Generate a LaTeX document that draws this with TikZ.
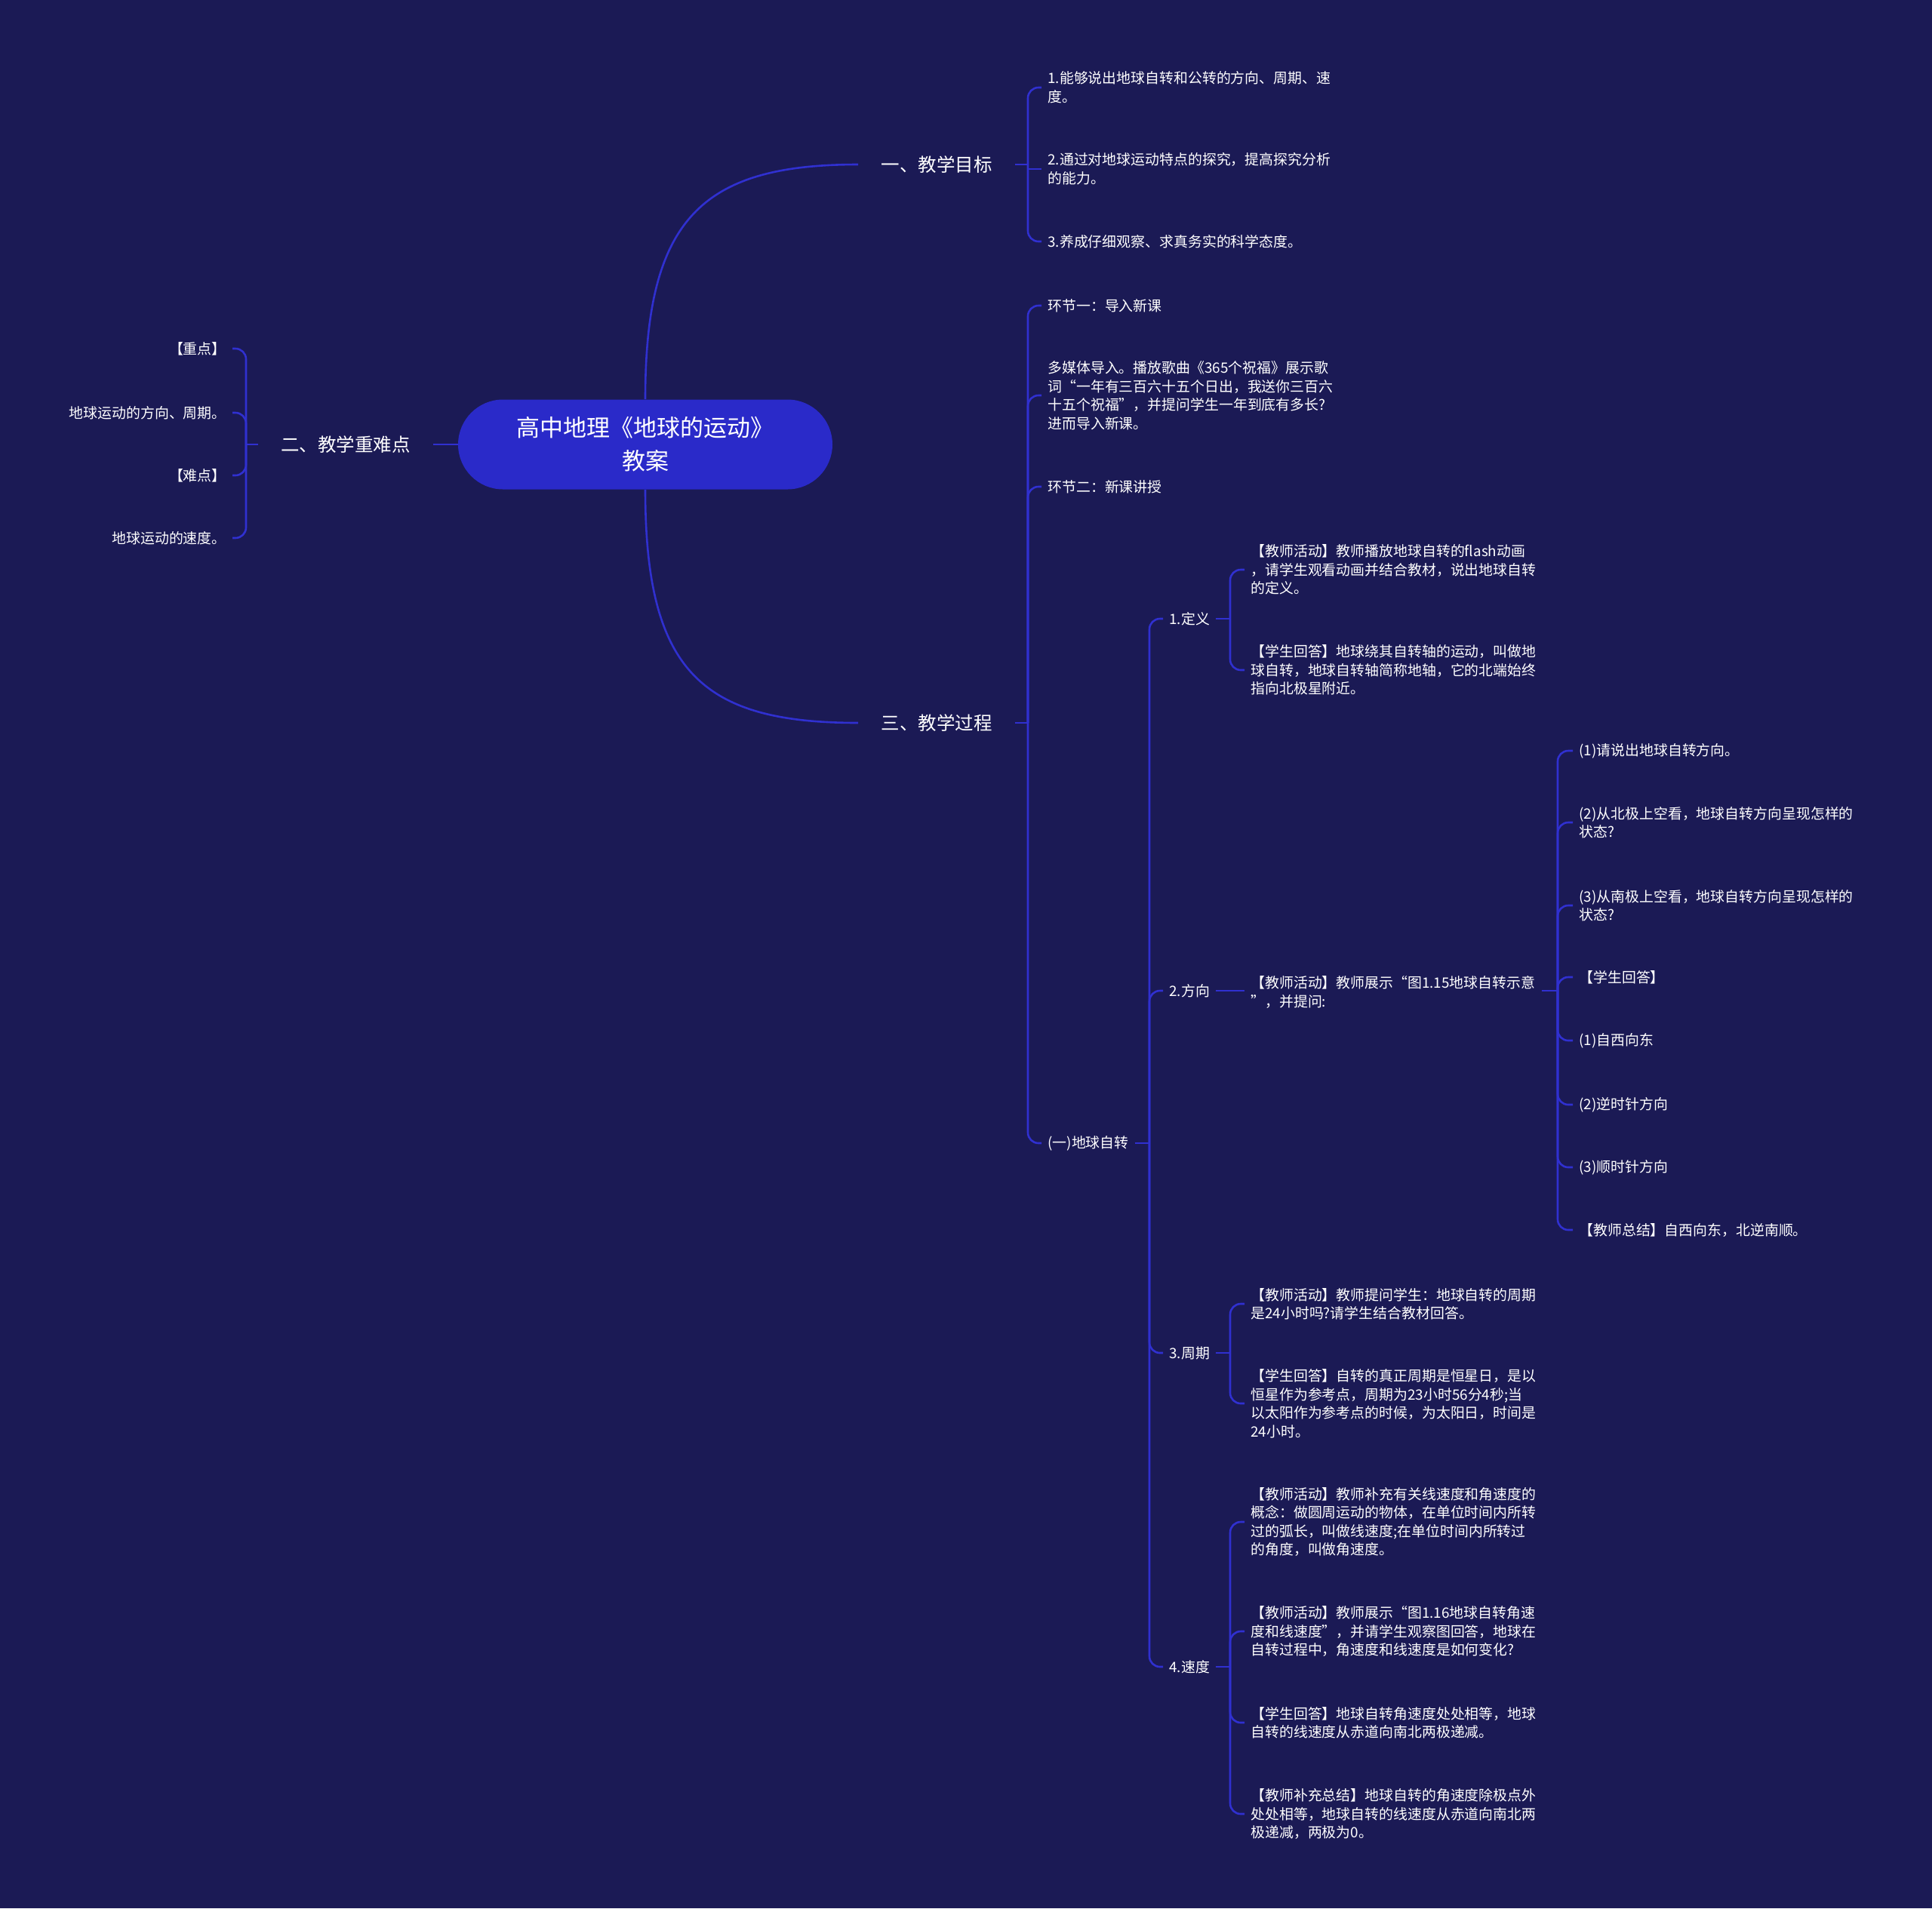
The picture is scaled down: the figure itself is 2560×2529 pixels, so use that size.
\documentclass[tikz,border=0pt]{standalone}
\usepackage{fontspec}
\newfontfamily\cjk{Noto Sans CJK SC}
\definecolor{bgc}{HTML}{1B1A55}
\definecolor{linec}{HTML}{3030D0}
\definecolor{rootc}{HTML}{2A2AC9}
\tikzset{
  conn/.style={draw=linec, line width=1.3pt},
  elbowconn/.style={conn, rounded corners=7pt},
  leaf/.style={font=\cjk\fontsize{9.45}{12.25}\selectfont, text=white, align=left, anchor=west, inner xsep=4pt, inner ysep=1pt},
  leafl/.style={leaf, anchor=east, align=right},
  lvone/.style={font=\cjk\fontsize{12.25}{15}\selectfont, text=white, inner xsep=15pt, inner ysep=2pt},
  rootnode/.style={fill=rootc, rounded corners=29.75pt, minimum width=248pt, minimum height=59.5pt, text=white, align=center, font=\cjk\fontsize{15.5}{22}\selectfont}
}
\begin{document}
\begin{tikzpicture}[x=0.5pt,y=-0.5pt]
\fill[bgc] (0,0) rectangle (2560,2529);
\useasboundingbox (0,0) rectangle (2560,2529);

% root and first level
\node[rootnode] (root) at (855,589) {高中地理《地球的运动》\\教案};
\node[lvone] (g1) at (1241,218) {一、教学目标};
\node[lvone] (g2) at (458,589) {二、教学重难点};
\node[lvone] (g3) at (1241,958) {三、教学过程};
\draw[conn] (root.north) .. controls (855,290) and (930,218) .. (g1.west);
\draw[conn] (root.south) .. controls (855,890) and (930,958) .. (g3.west);
\draw[conn] (root.west) -- (g2.east);

% children of g1
\node[leaf] (a1) at (1380,116) {1.能够说出地球自转和公转的方向、周期、速\\度。};
\node[leaf] (a2) at (1380,224) {2.通过对地球运动特点的探究，提高探究分析\\的能力。};
\node[leaf] (a3) at (1380,320) {3.养成仔细观察、求真务实的科学态度。};
\coordinate (b1) at (1362,218);
\draw[conn] (g1.east) -- (b1);
\draw[elbowconn] (b1) |- (a1.west);
\draw[conn] (b1) |- (a2.west);
\draw[elbowconn] (b1) |- (a3.west);

% children of g2
\node[leafl] (l1) at (308,462) {【重点】};
\node[leafl] (l2) at (308,547) {地球运动的方向、周期。};
\node[leafl] (l3) at (308,630) {【难点】};
\node[leafl] (l4) at (308,713) {地球运动的速度。};
\coordinate (b2) at (326,589);
\draw[conn] (g2.west) -- (b2);
\foreach \c in {l1,l2,l3,l4} \draw[elbowconn] (b2) |- (\c.east);

% children of g3
\node[leaf] (c1) at (1380,405) {环节一：导入新课};
\node[leaf] (c2) at (1380,524) {多媒体导入。播放歌曲《365个祝福》展示歌\\词“一年有三百六十五个日出，我送你三百六\\十五个祝福”，并提问学生一年到底有多长?\\进而导入新课。};
\node[leaf] (c3) at (1380,645) {环节二：新课讲授};
\node[leaf] (c4) at (1380,1515) {(一)地球自转};
\coordinate (b3) at (1362,958);
\draw[conn] (g3.east) -- (b3);
\foreach \c in {c1,c2,c3,c4} \draw[elbowconn] (b3) |- (\c.west);

% children of c4
\node[leaf] (d1) at (1541,820) {1.定义};
\node[leaf] (d2) at (1541,1313) {2.方向};
\node[leaf] (d3) at (1541,1793) {3.周期};
\node[leaf] (d4) at (1541,2209) {4.速度};
\coordinate (b4) at (1523,1515);
\draw[conn] (c4.east) -- (b4);
\foreach \c in {d1,d2,d3,d4} \draw[elbowconn] (b4) |- (\c.west);

% 1.定义
\node[leaf] (e1) at (1649,755) {【教师活动】教师播放地球自转的flash动画\\，请学生观看动画并结合教材，说出地球自转\\的定义。};
\node[leaf] (e2) at (1649,888) {【学生回答】地球绕其自转轴的运动，叫做地\\球自转，地球自转轴简称地轴，它的北端始终\\指向北极星附近。};
\coordinate (b5) at (1630,820);
\draw[conn] (d1.east) -- (b5);
\foreach \c in {e1,e2} \draw[elbowconn] (b5) |- (\c.west);

% 2.方向
\node[leaf] (f0) at (1649,1315) {【教师活动】教师展示“图1.15地球自转示意\\”，并提问:};
\draw[conn] (d2.east) -- (d2.east -| f0.west);
\node[leaf] (m1) at (2084,995) {(1)请说出地球自转方向。};
\node[leaf] (m2) at (2084,1090) {(2)从北极上空看，地球自转方向呈现怎样的\\状态?};
\node[leaf] (m3) at (2084,1200) {(3)从南极上空看，地球自转方向呈现怎样的\\状态?};
\node[leaf] (m4) at (2084,1295) {【学生回答】};
\node[leaf] (m5) at (2084,1379) {(1)自西向东};
\node[leaf] (m6) at (2084,1464) {(2)逆时针方向};
\node[leaf] (m7) at (2084,1547) {(3)顺时针方向};
\node[leaf] (m8) at (2084,1630) {【教师总结】自西向东，北逆南顺。};
\coordinate (b6) at (2064,1313);
\draw[conn] (d2.east -| f0.east) -- (b6);
\foreach \c in {m1,m2,m3,m4,m5,m6,m7,m8} \draw[elbowconn] (b6) |- (\c.west);

% 3.周期
\node[leaf] (h1) at (1649,1728) {【教师活动】教师提问学生：地球自转的周期\\是24小时吗?请学生结合教材回答。};
\node[leaf] (h2) at (1649,1860) {【学生回答】自转的真正周期是恒星日，是以\\恒星作为参考点，周期为23小时56分4秒;当\\以太阳作为参考点的时候，为太阳日，时间是\\24小时。};
\coordinate (b7) at (1630,1793);
\draw[conn] (d3.east) -- (b7);
\foreach \c in {h1,h2} \draw[elbowconn] (b7) |- (\c.west);

% 4.速度
\node[leaf] (k1) at (1649,2017) {【教师活动】教师补充有关线速度和角速度的\\概念：做圆周运动的物体，在单位时间内所转\\过的弧长，叫做线速度;在单位时间内所转过\\的角度，叫做角速度。};
\node[leaf] (k2) at (1649,2162) {【教师活动】教师展示“图1.16地球自转角速\\度和线速度”，并请学生观察图回答，地球在\\自转过程中，角速度和线速度是如何变化?};
\node[leaf] (k3) at (1649,2283) {【学生回答】地球自转角速度处处相等，地球\\自转的线速度从赤道向南北两极递减。};
\node[leaf] (k4) at (1649,2404) {【教师补充总结】地球自转的角速度除极点外\\处处相等，地球自转的线速度从赤道向南北两\\极递减，两极为0。};
\coordinate (b8) at (1630,2209);
\draw[conn] (d4.east) -- (b8);
\foreach \c in {k1,k2,k3,k4} \draw[elbowconn] (b8) |- (\c.west);
\end{tikzpicture}
\end{document}
